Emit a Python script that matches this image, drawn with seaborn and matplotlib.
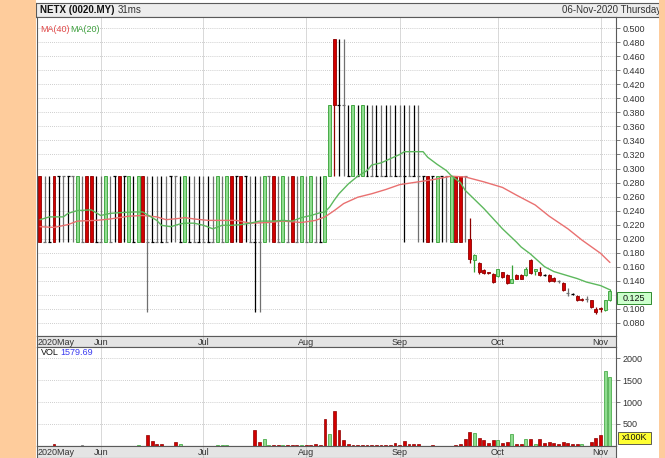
import matplotlib
matplotlib.use("Agg")
import matplotlib.pyplot as plt
import matplotlib.transforms as mtransforms
from matplotlib.patches import Rectangle
import seaborn as sns

sns.set_theme(style="white")
plt.rcParams["font.family"] = ["Liberation Sans", "DejaVu Sans"]

# ---------------- data ----------------
month_labels = ["2020May", "Jun", "Jul", "Aug", "Sep", "Oct", "Nov"]
month_pos = [0, 13, 35, 57, 77, 98, 120]

opens = [
    # May
    .29, .195, .195, .29, .29, .29, .29, .29, .195, .195, .29, .29, .195,
    # Jun
    .195, .195, .195, .29, .29, .29, .195, .195, .195, .29, .195, .195, .195, .195, .195, .29, .29, .195, .195, .195, .195, .195,
    # Jul
    .195, .195, .195, .195, .195, .195, .29, .29, .29, .29, .195, .195, .195, .195, .29, .29, .195, .195, .195, .29, .195, .195,
    # Aug
    .195, .195, .195, .195, .195, .29, .485, .39, .39, .29, .29, .29, .29, .29, .29, .29, .29, .29, .29, .29,
    # Sep
    .29, .29, .29, .29, .29, .29, .29, .29, .195, .29, .29, .195, .29, .29, .29, .200, .169, .165, .155, .152, .150,
    # Oct
    .146, .152, .148, .137, .148, .148, .148, .170, .154, .152, .148, .148, .144, .139, .137, .122, .121, .118, .114, .114, .112, .100,
    # Nov
    .101, .098, .112,
]
closes = [
    .195, .195, .195, .195, .29, .29, .29, .29, .29, .195, .195, .195, .195,
    .195, .29, .195, .29, .195, .29, .29, .195, .29, .195, .195, .195, .195, .195, .195, .29, .29, .195, .29, .195, .195, .195,
    .195, .195, .195, .29, .195, .29, .195, .29, .195, .29, .195, .195, .195, .29, .29, .195, .195, .29, .195, .195, .195, .29,
    .195, .29, .195, .195, .29, .39, .39, .39, .39, .29, .39, .29, .39, .29, .29, .29, .29, .29, .29, .29,
    .29, .29, .29, .29, .29, .29, .195, .29, .29, .29, .29, .29, .195, .195, .29, .171, .176, .152, .151, .151, .138,
    .156, .145, .136, .143, .143, .143, .157, .151, .157, .148, .148, .139, .139, .139, .126, .122, .121, .112, .112, .114, .102, .095,
    .099, .112, .125,
]
highs = [
    .29, .29, .29, .29, .29, .29, .29, .29, .29, .29, .29, .29, .29,
    .29, .29, .29, .29, .29, .29, .29, .29, .29, .29, .29, .29, .29, .29, .29, .29, .29, .29, .29, .29, .29, .29,
    .29, .29, .29, .29, .29, .29, .29, .29, .29, .29, .29, .29, .29, .29, .29, .29, .29, .29, .29, .29, .29, .29,
    .29, .29, .29, .29, .29, .39, .485, .485, .485, .39, .39, .39, .39, .39, .39, .39, .39, .39, .39, .39,
    .39, .39, .39, .39, .39, .29, .29, .29, .29, .29, .29, .29, .29, .29, .29, .230, .178, .167, .156, .153, .151,
    .157, .153, .149, .162, .149, .149, .160, .171, .157, .160, .150, .149, .145, .141, .138, .130, .122, .119, .115, .118, .113, .103,
    .103, .113, .128,
]
lows = [
    .195, .195, .195, .195, .195, .195, .195, .195, .195, .195, .195, .195, .195,
    .195, .195, .195, .195, .195, .195, .195, .195, .195, .195, .095, .195, .195, .195, .195, .195, .195, .195, .195, .195, .195, .195,
    .195, .195, .195, .195, .195, .195, .195, .195, .195, .195, .195, .095, .095, .195, .195, .195, .195, .195, .195, .195, .195, .195,
    .195, .195, .195, .195, .195, .29, .29, .29, .29, .29, .29, .29, .29, .29, .29, .29, .29, .29, .29, .29,
    .29, .195, .29, .29, .195, .195, .195, .195, .195, .195, .195, .195, .195, .195, .195, .165, .152, .150, .150, .150, .136,
    .145, .144, .135, .136, .142, .142, .147, .150, .148, .147, .146, .138, .138, .137, .125, .118, .120, .111, .111, .110, .101, .092,
    .095, .097, .111,
]

volumes = [
    0, 0, 0, 45, 0, 0, 0, 0, 0, 15, 0, 0, 0,
    0, 0, 0, 0, 0, 0, 0, 0, 12, 0, 235, 120, 50, 30, 0, 0, 83, 45, 0, 0, 0, 0,
    0, 0, 0, 15, 15, 10, 0, 0, 0, 0, 0, 356, 83, 160, 15, 15, 15, 15, 15, 15, 15, 15,
    15, 15, 45, 15, 614, 265, 796, 356, 121, 30, 15, 15, 15, 15, 15, 15, 15, 15, 15, 68,
    15, 120, 45, 30, 50, 0, 0, 10, 0, 0, 0, 0, 15, 45, 144, 318, 296, 182, 121, 68, 121,
    121, 68, 83, 280, 45, 45, 144, 144, 45, 144, 68, 83, 68, 45, 90, 68, 45, 30, 45, 0, 90, 167,
    235, 1713, 1579.69,
]
vol_up_days = [21, 30, 38, 39, 40, 48, 49, 52, 56, 62, 93, 98, 101, 104, 106, 116, 121, 122]
vol_flat_days = [9]

ma20_x = [0, 2, 5, 6, 8, 11, 13, 15, 17, 20, 22, 23, 25, 26, 28, 30, 31, 33, 35, 37, 39, 41, 43,
          45, 47, 50, 52, 54, 56, 58, 60, 61, 62, 63, 64, 66, 68, 70, 71, 73, 75, 77, 78, 82, 83,
          85, 87, 88, 90, 91, 95, 99, 102, 103, 105, 106, 108, 110, 112, 115, 117, 120, 122]
ma20_y = [.227, .231, .231, .236, .240, .241, .233, .236, .237, .238, .238, .234, .226, .219, .217,
          .221, .222, .222, .219, .214, .219, .219, .220, .222, .225, .225, .226, .225, .230, .233,
          .237, .238, .245, .255, .264, .278, .289, .297, .305, .308, .314, .320, .324, .324, .316,
          .306, .297, .290, .280, .269, .243, .214, .195, .188, .178, .172, .160, .153, .149, .143,
          .138, .133, .127]

ma40_x = [0, 3, 6, 8, 12, 15, 19, 22, 25, 27, 30, 31, 33, 36, 42, 45, 49, 52, 56, 59, 61, 63, 65,
          68, 71, 74, 77, 80, 84, 88, 91, 95, 99, 102, 106, 109, 113, 116, 120, 122]
ma40_y = [.217, .216, .220, .225, .226, .228, .232, .233, .231, .227, .229, .230, .228, .226, .226,
          .222, .223, .225, .223, .226, .231, .240, .250, .259, .264, .270, .277, .280, .284, .289,
          .288, .281, .273, .262, .248, .232, .214, .198, .179, .166]

price_ticks = [0.08, 0.10, 0.12, 0.14, 0.16, 0.18, 0.20, 0.22, 0.24, 0.26, 0.28, 0.30,
               0.32, 0.34, 0.36, 0.38, 0.40, 0.42, 0.44, 0.46, 0.48, 0.50]
vol_ticks = [500, 1000, 1500, 2000]

# ---------------- styling ----------------
W, H = 665, 458
RED, RED_EDGE = "#D20000", "#8E0000"
GRN, GRN_EDGE = "#8FDC8F", "#34A034"
GRID_H = "#BEBEBE"
GRID_V = "#D8D8D8"
ORANGE = "#FECC9C"
TXT = "#333333"
FS = 6.5

fig = plt.figure(figsize=(W / 100, H / 100), dpi=100)
fig.patch.set_facecolor("white")


def px_axes(x0, y0, x1, y1):
    # axes placed by pixel box (top-left origin)
    return fig.add_axes([x0 / W, 1 - y1 / H, (x1 - x0) / W, (y1 - y0) / H])


ax_head = px_axes(36, 3, 659, 17)
ax = px_axes(37, 17, 616, 336)
ax_d1 = px_axes(37, 336, 616, 347)
ax_vol = px_axes(37, 347, 616, 446)
ax_d2 = px_axes(37, 446, 616, 458)

XLIM = (-0.64, 123.3)
n = len(closes)
idx = list(range(n))

# ---------------- price panel ----------------
for i in idx:
    o, h, l, c = opens[i], highs[i], lows[i], closes[i]
    if c == o:
        col = "#000000" if i % 2 == 0 else "#707070"
        ax.vlines(i, l, h, color=col, lw=0.9, zorder=3)
        ax.hlines(o, i - 0.32, i + 0.32, color=col, lw=0.9, zorder=3)
    else:
        face, edge = (GRN, GRN_EDGE) if c > o else (RED, RED_EDGE)
        ax.vlines(i, l, h, color=edge, lw=0.9, zorder=3)
        ax.bar(i, abs(c - o), bottom=min(o, c), width=0.64, color=face,
               edgecolor=edge, linewidth=0.6, zorder=4)

sns.lineplot(x=ma40_x, y=ma40_y, ax=ax, color="#E97070", lw=1.0, zorder=5)
sns.lineplot(x=ma20_x, y=ma20_y, ax=ax, color="#5DB85D", lw=1.0, zorder=5)

ax.set_xlim(*XLIM)
ax.set_ylim(0.0611, 0.5161)
ax.set_xlabel("")
ax.set_ylabel("")
ax.set_facecolor("white")
ax.set_xticks(month_pos[1:])
ax.set_yticks(price_ticks)
ax.set_yticklabels(["" if abs(t - 0.12) < 1e-9 else f"{t:.3f}" for t in price_ticks])
ax.yaxis.tick_right()
ax.tick_params(axis="y", right=True, left=False, labelright=True, labelleft=False,
               length=3, width=0.6, color="#666666", labelsize=FS, labelcolor=TXT, pad=1.5)
ax.tick_params(axis="x", bottom=False, labelbottom=False)
ax.grid(axis="y", ls=(0, (1, 1.5)), color=GRID_H, lw=0.6)
ax.grid(axis="x", ls="-", color=GRID_V, lw=0.7)
ax.set_axisbelow(True)

ax.text(0.006, 0.962, "MA(40)", transform=ax.transAxes, color="#E04848", fontsize=FS, va="center")
ax.text(0.057, 0.962, "MA(20)", transform=ax.transAxes, color="#3FA03F", fontsize=FS, va="center")

# last price tag
blend = mtransforms.blended_transform_factory(ax.transAxes, ax.transData)
tag_top = closes[-1] - 0.0015
ax.add_patch(Rectangle((1.002, tag_top - 0.0172), 0.058, 0.0172, transform=blend,
                       facecolor="#CCFFCC", edgecolor="#2E8B2E", lw=0.7, clip_on=False, zorder=6))
ax.text(1.031, tag_top - 0.0086, f"{closes[-1]:.3f}", transform=blend, ha="center",
        va="center", fontsize=FS, color="#111111", zorder=7)

# ---------------- volume panel ----------------
vol_face, vol_edge = [], []
for i in idx:
    if i in vol_up_days:
        vol_face.append(GRN); vol_edge.append(GRN_EDGE)
    elif i in vol_flat_days:
        vol_face.append("#909090"); vol_edge.append("#707070")
    else:
        vol_face.append(RED); vol_edge.append(RED_EDGE)
ax_vol.bar(idx, volumes, width=0.62, color=vol_face, edgecolor=vol_edge, linewidth=0.5, zorder=3)
ax_vol.set_xlim(*XLIM)
ax_vol.set_ylim(-5, 2257)
ax_vol.set_xticks(month_pos[1:])
ax_vol.set_yticks(vol_ticks)
ax_vol.set_yticklabels([str(v) for v in vol_ticks])
ax_vol.yaxis.tick_right()
ax_vol.tick_params(axis="y", right=True, left=False, labelright=True, labelleft=False,
                   length=3, width=0.6, color="#666666", labelsize=FS, labelcolor=TXT, pad=1.5)
ax_vol.tick_params(axis="x", bottom=False, labelbottom=False)
ax_vol.grid(axis="y", ls=(0, (1, 1.5)), color=GRID_H, lw=0.6)
ax_vol.grid(axis="x", ls="-", color=GRID_V, lw=0.7)
ax_vol.set_axisbelow(True)
ax_vol.text(0.006, 0.945, "VOL", transform=ax_vol.transAxes, fontsize=FS, va="center", color="#111111")
ax_vol.text(0.041, 0.945, f"{volumes[-1]:.2f}", transform=ax_vol.transAxes, fontsize=FS,
            va="center", color="#3A3AF0")
vblend = mtransforms.blended_transform_factory(ax_vol.transAxes, ax_vol.transData)
ax_vol.add_patch(Rectangle((1.003, 50), 0.058, 275, transform=vblend, facecolor="#FFFF33",
                           edgecolor="#444444", lw=0.6, clip_on=False, zorder=6))
ax_vol.text(1.032, 187, "x100K", transform=vblend, ha="center", va="center",
            fontsize=FS, color="#111111", zorder=7)

# ---------------- date strips ----------------
for ax_d in (ax_d1, ax_d2):
    ax_d.set_facecolor("#E4E4E4")
    ax_d.set_xlim(*XLIM)
    ax_d.set_ylim(0, 1)
    ax_d.set_xticks([])
    ax_d.set_yticks([])
    ax_d.vlines(month_pos[1:], 0, 1, color="#C8C8C8", lw=0.7)
    for pos, lab in zip(month_pos, month_labels):
        if lab == "2020May":
            ax_d.text(XLIM[0] + 0.2, 0.45, lab, ha="left", va="center", fontsize=FS, color=TXT)
        else:
            ax_d.text(pos, 0.45, lab, ha="center", va="center", fontsize=FS, color=TXT)

# ---------------- header ----------------
ax_head.set_facecolor("#EDEDED")
ax_head.set_xticks([])
ax_head.set_yticks([])
ax_head.text(0.006, 0.48, "NETX (0020.MY)", transform=ax_head.transAxes, fontsize=7,
             fontweight="bold", va="center", color="#111111")
ax_head.text((118 - 36) / 623, 0.48, "31ms", transform=ax_head.transAxes, fontsize=7,
             va="center", color=TXT)
ax_head.text(1.004, 0.48, "06-Nov-2020 Thursday", transform=ax_head.transAxes, fontsize=7,
             va="center", ha="right", color=TXT)

for a in (ax_head, ax, ax_d1, ax_vol, ax_d2):
    for s in a.spines.values():
        s.set_visible(True)
        s.set_color("#5A5A5A")
        s.set_linewidth(0.8)

# side bands
fig.add_artist(Rectangle((0, 0), 36 / W, 1, transform=fig.transFigure, facecolor=ORANGE,
                         edgecolor="none", zorder=10))
fig.add_artist(Rectangle((659 / W, 0), 6 / W, 1, transform=fig.transFigure, facecolor=ORANGE,
                         edgecolor="none", zorder=10))

fig.savefig("out.png", dpi=100)
